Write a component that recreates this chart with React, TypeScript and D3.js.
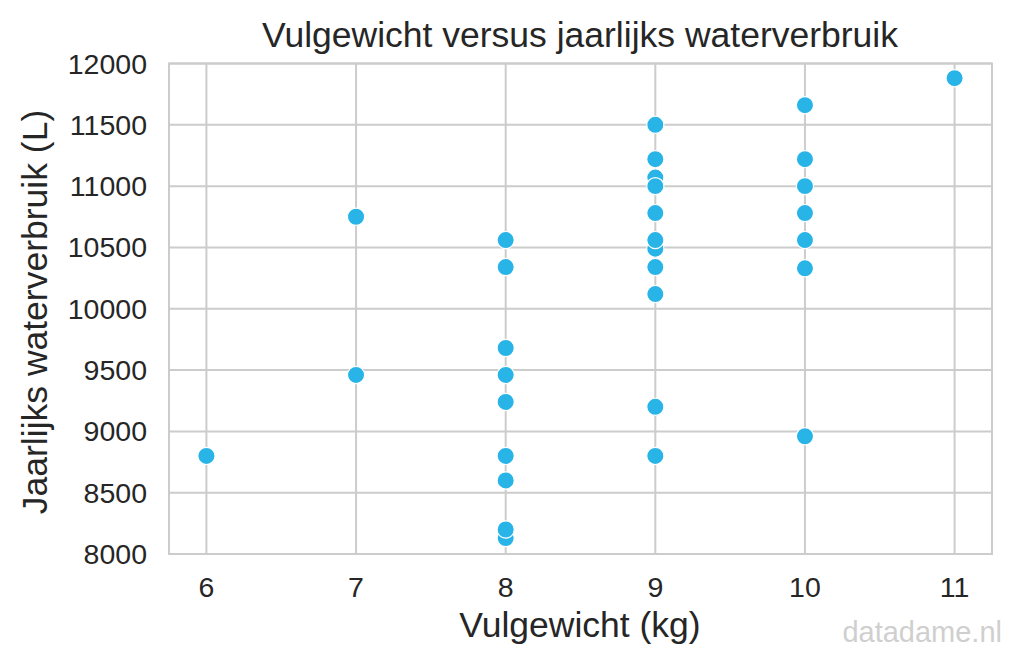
import React from "react";
import * as d3 from "d3";

const title = "Vulgewicht versus jaarlijks waterverbruik";
const xLabel = "Vulgewicht (kg)";
const yLabel = "Jaarlijks waterverbruik (L)";
const watermark = "datadame.nl";

const weights = [6, 7, 7, 8, 8, 8, 8, 8, 8, 8, 8, 8, 9, 9, 9, 9, 9, 9, 9, 9, 9, 9, 9, 10, 10, 10, 10, 10, 10, 10, 11];
const water = [
  8800,
  10750, 9460,
  10560, 10340, 9680, 9460, 9240, 8800, 8600, 8130, 8200,
  11500, 11220, 11070, 11000, 10780, 10490, 10560, 10340, 10120, 9200, 8800,
  11660, 11220, 11000, 10780, 10560, 10330, 8960,
  11880,
];
const xTicks = [6, 7, 8, 9, 10, 11];
const yTicks = [8000, 8500, 9000, 9500, 10000, 10500, 11000, 11500, 12000];

const W = 1024;
const H = 670;
const left = 169;
const right = 992;
const top = 63.5;
const bottom = 554;

const FONT = "'Liberation Sans', Arial, Helvetica, sans-serif";
const TEXT = "#262626";
const GRID = "#cccccc";
const DOT = "#29b4e7";

export default function App() {
  const x = d3.scaleLinear().domain([5.75, 11.25]).range([left, right]);
  const y = d3.scaleLinear().domain([8000, 12000]).range([bottom, top]);

  return (
    <div style={{ position: "absolute", left: 0, top: 0 }}>
      <svg width={W} height={H} style={{ display: "block", background: "#fff" }}>
        <rect x={0} y={0} width={W} height={H} fill="#fff" />
        {xTicks.map((t) => (
          <line key={"gx" + t} x1={x(t)} x2={x(t)} y1={top} y2={bottom} stroke={GRID} strokeWidth={2} />
        ))}
        {yTicks.map((t) => (
          <line key={"gy" + t} x1={left} x2={right} y1={y(t)} y2={y(t)} stroke={GRID} strokeWidth={2} />
        ))}
        <rect x={left} y={top} width={right - left} height={bottom - top} fill="none" stroke={GRID} strokeWidth={2} />
        {weights.map((w, i) => (
          <circle key={"p" + i} cx={x(w)} cy={y(water[i])} r={8.6} fill={DOT} stroke="#fff" strokeWidth={1.2} />
        ))}
        {xTicks.map((t) => (
          <text key={"tx" + t} x={x(t)} y={bottom + 43} textAnchor="middle" fontFamily={FONT} fontSize={28.5} fill={TEXT}>
            {t}
          </text>
        ))}
        {yTicks.map((t) => (
          <text key={"ty" + t} x={left - 22} y={y(t) + 10} textAnchor="end" fontFamily={FONT} fontSize={28.5} fill={TEXT}>
            {t}
          </text>
        ))}
        <text x={580} y={47} textAnchor="middle" fontFamily={FONT} fontSize={35.5} fill={TEXT}>
          {title}
        </text>
        <text x={580} y={637} textAnchor="middle" fontFamily={FONT} fontSize={35.5} fill={TEXT}>
          {xLabel}
        </text>
        <text
          transform={`translate(47,312) rotate(-90)`}
          textAnchor="middle"
          fontFamily={FONT}
          fontSize={35.5}
          fill={TEXT}
        >
          {yLabel}
        </text>
        <text x={1002} y={642} textAnchor="end" fontFamily={FONT} fontSize={29} fill="#cfcfcf">
          {watermark}
        </text>
      </svg>
    </div>
  );
}
